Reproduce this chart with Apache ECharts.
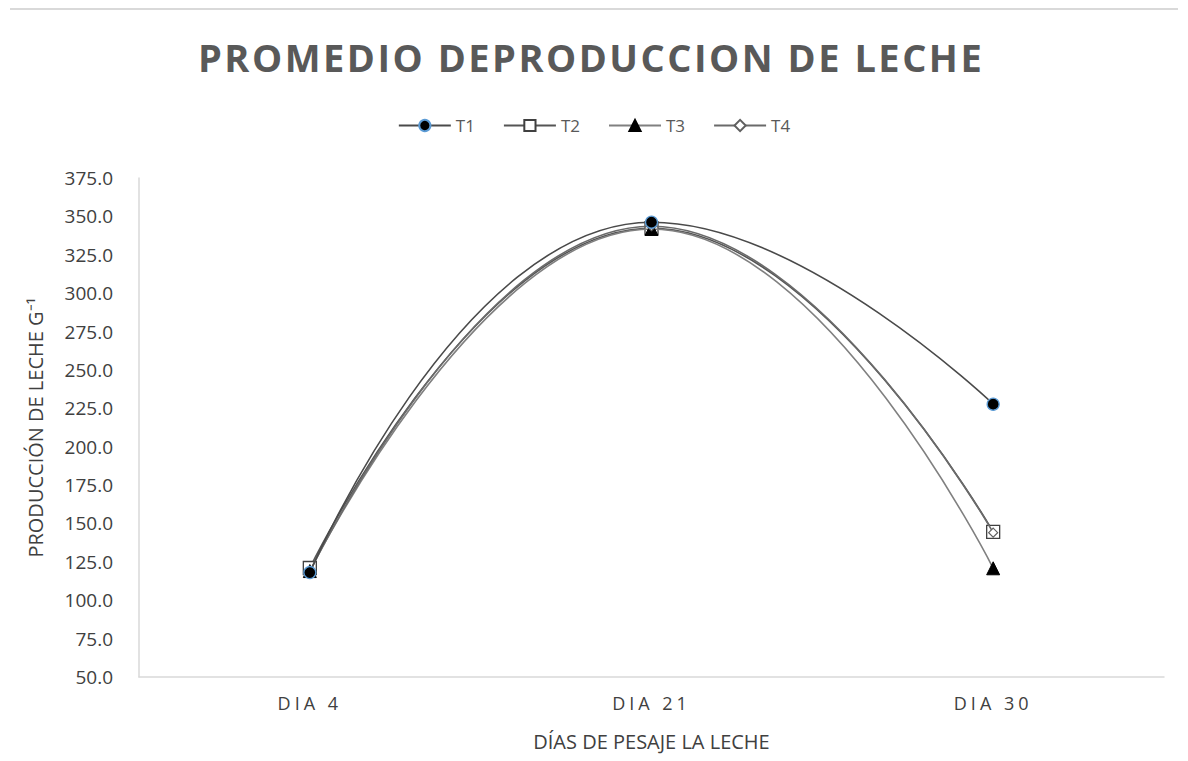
<!DOCTYPE html>
<html>
<head>
<meta charset="utf-8">
<script src="https://cdn.jsdelivr.net/npm/echarts@6/dist/echarts.min.js"></script>
<style>
html,body{margin:0;padding:0;background:#fff}
#c{width:1188px;height:761px}
#c text[style*="Lato"]{letter-spacing:4px}
#c text[style*="Inter"]{letter-spacing:2.5px}
</style>
</head>
<body>
<div id="c"></div>
<script>
const categories = ['DIA 4', 'DIA 21', 'DIA 30'];
const seriesNames = ['T1', 'T2', 'T3', 'T4'];
const t1 = [118.0, 346.2, 227.7];
const t2 = [121.0, 342.3, 144.5];
const t3 = [119.0, 341.8, 120.8];
const t4 = [118.5, 343.6, 144.0];
const yTicks = [50, 75, 100, 125, 150, 175, 200, 225, 250, 275, 300, 325, 350, 375];

const chart = echarts.init(document.getElementById('c'), null, {renderer: 'svg'});
const font = 'Open Sans, sans-serif';
const styles = [
  {symbol: 'circle', symbolSize: 12, item: {color: '#000', borderColor: '#5B9BD5', borderWidth: 1.3}, line: '#4a4a4a', z: 14},
  {symbol: 'rect', symbolSize: 13, item: {color: '#fff', borderColor: '#404040', borderWidth: 1.3}, line: '#555555', z: 11},
  {symbol: 'triangle', symbolSize: 13, item: {color: '#000', borderColor: '#000', borderWidth: 1}, line: '#808080', z: 12},
  {symbol: 'diamond', symbolSize: 9, item: {color: '#fff', borderColor: '#606060', borderWidth: 1.2}, line: '#6a6a6a', z: 13}
];
const data = [t1, t2, t3, t4];
chart.setOption({
  animation: false,
  title: {
    text: 'PROMEDIO DEPRODUCCION DE LECHE',
    left: 193, top: 33,
    textStyle: {fontFamily: 'Open Sans, Inter', fontWeight: 'bold', fontSize: 38, color: '#595959'}
  },
  legend: {
    top: 112, left: 'center',
    itemWidth: 52, itemHeight: 14, itemGap: 28,
    textStyle: {fontFamily: font, fontSize: 17, color: '#595959'},
    data: seriesNames
  },
  graphic: [{type: 'line', shape: {x1: 10, y1: 9, x2: 1178, y2: 9}, style: {stroke: '#d9d9d9', lineWidth: 2}}],
  grid: {left: 139, right: 24, top: 178, bottom: 84},
  xAxis: {
    type: 'category', data: categories, boundaryGap: true,
    axisLine: {lineStyle: {color: '#d9d9d9', width: 1.5}},
    axisTick: {show: false},
    axisLabel: {fontFamily: 'Open Sans, Lato', fontSize: 18, color: '#404040', margin: 17},
    name: 'DÍAS DE PESAJE LA LECHE', nameLocation: 'middle', nameGap: 54,
    nameTextStyle: {fontFamily: font, fontSize: 20, color: '#404040'}
  },
  yAxis: {
    type: 'value', min: 50, max: 375, interval: 25,
    axisLine: {show: true, lineStyle: {color: '#d9d9d9', width: 1.5}},
    axisTick: {show: false},
    splitLine: {show: false},
    axisLabel: {fontFamily: font, fontSize: 19, color: '#404040', margin: 26,
      formatter: v => yTicks.includes(v) ? v.toFixed(1) : ''},
    name: 'PRODUCCIÓN DE LECHE G⁻¹', nameLocation: 'middle', nameGap: 94, nameRotate: 90,
    nameTextStyle: {fontFamily: font, fontSize: 20, color: '#404040'}
  },
  series: seriesNames.map((n, i) => ({
    name: n, type: 'line', data: data[i], smooth: 0.5,
    symbol: styles[i].symbol, symbolSize: styles[i].symbolSize,
    showAllSymbol: true,
    itemStyle: styles[i].item,
    lineStyle: {color: styles[i].line, width: 1.6},
    z: styles[i].z
  }))
});
</script>
</body>
</html>
